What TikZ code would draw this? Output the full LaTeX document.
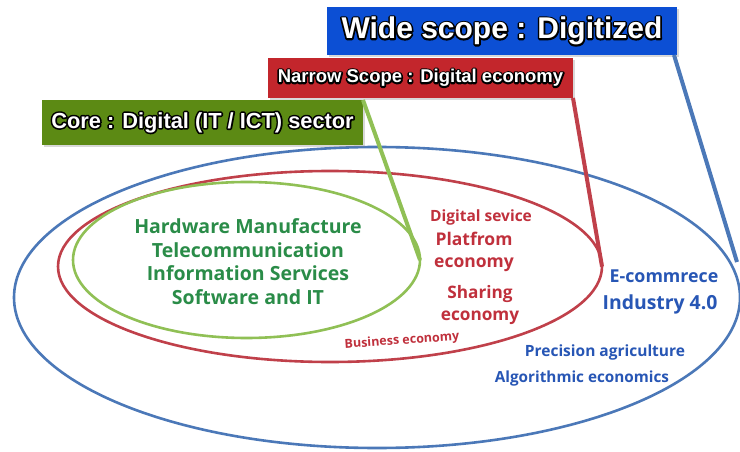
\documentclass[tikz,border=0pt]{standalone}
\usepackage{fontspec}
\setmainfont{Liberation Sans}
\newfontfamily\osans{Open Sans}
\usetikzlibrary{shapes.geometric,shadows}
\definecolor{bboxc}{HTML}{0C4FD4}
\definecolor{rboxc}{HTML}{C3262C}
\definecolor{gboxc}{HTML}{5C8A14}
\definecolor{blinec}{HTML}{4B78B8}
\definecolor{rlinec}{HTML}{C0404A}
\definecolor{glinec}{HTML}{90C055}
\definecolor{btextc}{HTML}{2756B5}
\definecolor{rtextc}{HTML}{C0303C}
\definecolor{gtextc}{HTML}{2A8C48}
\newcommand\olt[1]{\rlap{\special{pdf:literal direct 0 0 0 RG 1 Tr 3.2 w 1 j}#1\special{pdf:literal direct 0 Tr}}\textcolor{white}{#1}}
\tikzset{
  ring/.style={ellipse, draw, line width=2.6pt, inner sep=0pt, outer sep=0pt},
  scopebox/.style={rectangle, inner sep=0pt, outer sep=0pt, font=\bfseries,
    drop shadow={opacity=0.3, shadow xshift=1.5pt, shadow yshift=-2pt}},
  link/.style={line width=4pt},
  itxt/.style={font=\osans\bfseries, inner sep=0pt, align=center},
}
\begin{document}
\begin{tikzpicture}[x=1pt,y=-1pt]
\useasboundingbox[fill=white] (0,0) rectangle (740,452);
% rings
\node[ring, draw=blinec, minimum width=726pt, minimum height=301pt] (bell) at (377,297.5) {};
\node[ring, draw=rlinec, minimum width=544pt, minimum height=191pt] (rell) at (330,266.5) {};
\node[ring, draw=glinec, minimum width=347pt, minimum height=156pt] (gell) at (246.5,260) {};
% scope boxes
\node[scopebox, fill=bboxc, minimum width=350pt, minimum height=48pt, font=\bfseries\fontsize{30}{32}\selectfont] (bbox) at (502,31) {\olt{Wide scope : Digitized}};
\node[scopebox, fill=rboxc, minimum width=305pt, minimum height=40pt, font=\bfseries\fontsize{18.5}{20}\selectfont] (rbox) at (420.5,78) {\olt{Narrow Scope : Digital economy}};
\node[scopebox, fill=gboxc, minimum width=321pt, minimum height=45pt, font=\bfseries\fontsize{21.8}{23}\selectfont] (gbox) at (202.5,122.5) {\olt{Core : Digital (IT / ICT) sector}};
% connectors
\coordinate (bend) at (737,262);
\draw[link, draw=glinec] (gbox.north east) -- (gell.east);
\draw[link, draw=rlinec] (rbox.south east) -- (rell.east);
\draw[link, draw=blinec] ([xshift=-3pt]bbox.south east) -- (bend);
% core texts
\node[itxt, text=gtextc, font=\osans\bfseries\fontsize{19.5}{23.5}\selectfont] (core) at (248,261.5)
  {Hardware Manufacture\\Telecommunication\\Information Services\\Software and IT};
% digital economy texts
\node[itxt, text=rtextc, font=\osans\bfseries\fontsize{15.5}{16}\selectfont] (dsv) at (481,217) {Digital sevice};
\node[itxt, text=rtextc, font=\osans\bfseries\fontsize{17.5}{22}\selectfont] (plat) at (474,252) {Platfrom\\economy};
\node[itxt, text=rtextc, font=\osans\bfseries\fontsize{17.2}{22}\selectfont] (shar) at (480,305) {Sharing\\economy};
\node[itxt, text=rtextc, font=\osans\bfseries\fontsize{12.5}{13}\selectfont, rotate=4] (bus) at (402,341) {Business economy};
% digitized texts
\node[itxt, text=btextc, font=\osans\bfseries\fontsize{17.8}{18}\selectfont] (ecom) at (664,276) {E-commrece};
\node[itxt, text=btextc, font=\osans\bfseries\fontsize{19.4}{20}\selectfont] (ind) at (660,304) {Industry 4.0};
\node[itxt, text=btextc, font=\osans\bfseries\fontsize{15.5}{16}\selectfont] (prec) at (605,352) {Precision agriculture};
\node[itxt, text=btextc, font=\osans\bfseries\fontsize{15.3}{16}\selectfont] (algo) at (582,379) {Algorithmic economics};
\end{tikzpicture}
\end{document}
